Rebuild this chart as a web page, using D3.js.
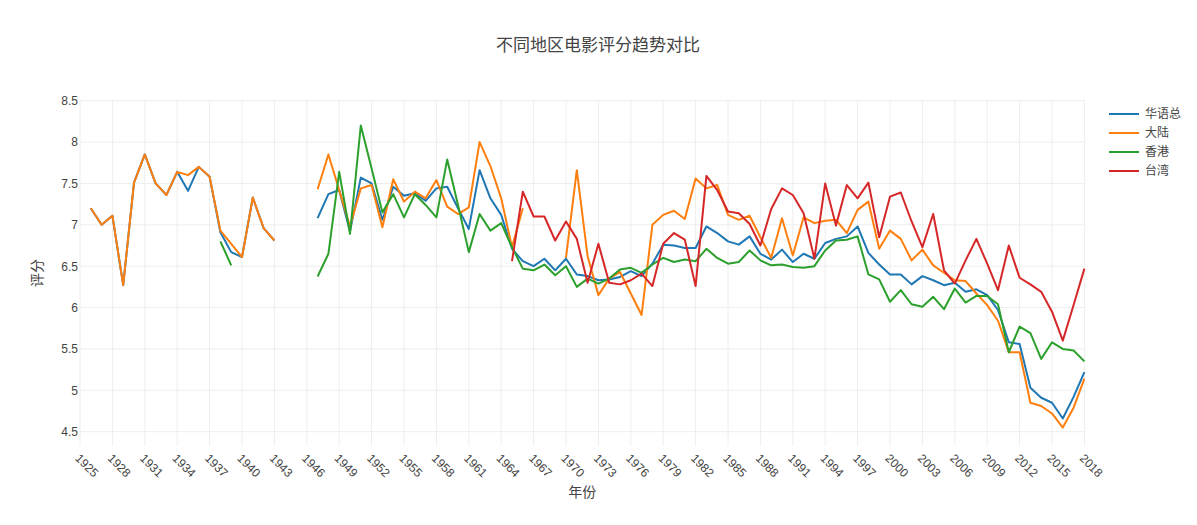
<!DOCTYPE html>
<html>
<head>
<meta charset="utf-8">
<script src="https://cdn.jsdelivr.net/npm/d3@7"></script>
<style>
  html, body { margin: 0; padding: 0; background: #fff; }
  svg { display: block; font-family: "Open Sans", "Noto Sans CJK SC", sans-serif; }
</style>
</head>
<body>
<svg id="chart" width="1197" height="525"></svg>
<script>
const years = [1925,1926,1927,1928,1929,1930,1931,1932,1933,1934,1935,1936,1937,1938,1939,1940,1941,1942,1943,1944,1945,1946,1947,1948,1949,1950,1951,1952,1953,1954,1955,1956,1957,1958,1959,1960,1961,1962,1963,1964,1965,1966,1967,1968,1969,1970,1971,1972,1973,1974,1975,1976,1977,1978,1979,1980,1981,1982,1983,1984,1985,1986,1987,1988,1989,1990,1991,1992,1993,1994,1995,1996,1997,1998,1999,2000,2001,2002,2003,2004,2005,2006,2007,2008,2009,2010,2011,2012,2013,2014,2015,2016,2017,2018];

const seriesNames = ["华语总", "大陆", "香港", "台湾"];

const totalScores = [null,7.20,7.00,7.11,6.27,7.51,7.85,7.50,7.36,7.64,7.41,7.70,7.58,6.91,6.67,6.61,7.33,6.96,6.81,null,null,null,
  7.08,7.37,7.42,6.92,7.57,7.50,7.06,7.46,7.35,7.38,7.29,7.44,7.46,7.20,6.95,7.66,7.32,7.12,6.71,6.56,6.50,6.59,6.45,6.59,
  6.40,6.38,6.33,6.34,6.37,6.44,6.38,6.53,6.76,6.75,6.72,6.72,6.98,6.90,6.80,6.76,6.86,6.65,6.58,6.70,6.55,6.65,6.59,6.78,
  6.83,6.86,6.98,6.66,6.52,6.40,6.40,6.28,6.38,6.33,6.27,6.30,6.19,6.22,6.15,5.97,5.58,5.56,5.03,4.91,4.85,4.66,4.92,5.22];

const mainlandScores = [null,7.20,7.00,7.11,6.27,7.51,7.85,7.50,7.36,7.64,7.60,7.70,7.58,6.93,6.77,6.61,7.33,6.96,6.81,null,null,null,
  7.43,7.85,7.42,6.98,7.44,7.48,6.97,7.55,7.28,7.40,7.32,7.54,7.22,7.13,7.21,8.00,7.71,7.32,6.73,7.20,null,null,null,6.60,
  7.66,6.62,6.15,6.35,6.43,6.17,5.91,7.00,7.12,7.17,7.07,7.56,7.44,7.48,7.12,7.06,7.11,6.85,6.60,7.08,6.63,7.09,7.02,7.05,
  7.06,6.90,7.18,7.28,6.71,6.93,6.83,6.57,6.70,6.51,6.42,6.33,6.32,6.17,6.03,5.84,5.46,5.46,4.85,4.81,4.72,4.55,4.79,5.14];

const hongkongScores = [null,null,null,null,null,null,null,null,null,null,null,null,null,6.80,6.51,null,null,null,null,null,null,null,
  6.375,6.65,7.64,6.89,8.20,7.68,7.15,7.37,7.09,7.37,7.24,7.09,7.79,7.24,6.67,7.13,6.93,7.02,6.73,6.47,6.45,6.52,6.39,6.50,
  6.25,6.35,6.29,6.35,6.46,6.48,6.42,6.52,6.60,6.55,6.58,6.56,6.71,6.60,6.53,6.55,6.69,6.57,6.51,6.52,6.49,6.48,6.50,6.69,
  6.81,6.82,6.86,6.40,6.34,6.07,6.21,6.04,6.01,6.13,5.98,6.23,6.06,6.14,6.14,6.04,5.46,5.77,5.69,5.38,5.58,5.50,5.48,5.35];

const taiwanScores = [null,null,null,null,null,null,null,null,null,null,null,null,null,null,null,null,null,null,null,null,null,null,
  null,null,null,null,null,null,null,null,null,null,null,null,null,null,null,null,null,null,6.56,7.40,7.10,7.10,6.81,7.04,
  6.83,6.30,6.77,6.30,6.28,6.33,6.41,6.26,6.77,6.90,6.82,6.26,7.59,7.42,7.16,7.14,7.01,6.75,7.19,7.44,7.36,7.14,6.59,7.50,
  6.99,7.48,7.32,7.51,6.85,7.34,7.39,7.04,6.73,7.13,6.45,6.29,6.57,6.83,6.53,6.21,6.75,6.36,6.28,6.19,5.95,5.60,6.03,6.47];

const xTickValues = [1925,1928,1931,1934,1937,1940,1943,1946,1949,1952,1955,1958,1961,1964,1967,1970,1973,1976,1979,1982,1985,1988,1991,1994,1997,2000,2003,2006,2009,2012,2015,2018];
const yTickValues = [4.5,5,5.5,6,6.5,7,7.5,8,8.5];
const colors = ["#1f77b4", "#ff7f0e", "#2ca02c", "#d62728"];

const allSeries = [totalScores, mainlandScores, hongkongScores, taiwanScores];

const svg = d3.select("#chart");
const W = 1197, H = 525;
const plot = { left: 80, right: 1084.4, top: 100, bottom: 446 };

const x = d3.scaleLinear().domain([1925, 2018]).range([plot.left, plot.right]);
const y = d3.scaleLinear().domain([4.327, 8.508]).range([plot.bottom, plot.top]);

svg.append("rect").attr("width", W).attr("height", H).attr("fill", "#fff");

// grid
const grid = svg.append("g");
grid.selectAll("line.vx").data(xTickValues).enter().append("line")
  .attr("x1", d => x(d)).attr("x2", d => x(d))
  .attr("y1", plot.top).attr("y2", plot.bottom)
  .attr("stroke", "#eee").attr("stroke-width", 1);
grid.selectAll("line.hy").data(yTickValues).enter().append("line")
  .attr("x1", plot.left).attr("x2", plot.right)
  .attr("y1", d => y(d)).attr("y2", d => y(d))
  .attr("stroke", "#eee").attr("stroke-width", 1);

// axes via d3 axis generators, styled like plotly
const xAxis = d3.axisBottom(x).tickValues(xTickValues).tickFormat(d3.format("d")).tickSize(0).tickPadding(0);
const gx = svg.append("g").attr("transform", `translate(0,${plot.bottom})`).call(xAxis);
gx.select(".domain").remove();
gx.selectAll(".tick text")
  .attr("fill", "#444").attr("font-size", 12)
  .attr("text-anchor", "start")
  .attr("y", 0).attr("dy", "0.35em")
  .attr("transform", "translate(-3,10) rotate(45)");

const yAxis = d3.axisLeft(y).tickValues(yTickValues).tickFormat(d => d3.format("")(d)).tickSize(0).tickPadding(2);
const gy = svg.append("g").attr("transform", `translate(${plot.left},0)`).call(yAxis);
gy.select(".domain").remove();
gy.selectAll(".tick text").attr("fill", "#444").attr("font-size", 12);

// lines
const line = d3.line()
  .defined(d => d.v !== null)
  .x(d => x(d.year))
  .y(d => y(d.v));

allSeries.forEach((vals, i) => {
  const pts = years.map((yr, k) => ({ year: yr, v: vals[k] }));
  svg.append("path")
    .datum(pts)
    .attr("fill", "none")
    .attr("stroke", colors[i])
    .attr("stroke-width", 2)
    .attr("stroke-linejoin", "round")
    .attr("d", line);
});

// title
svg.append("text").attr("x", 598).attr("y", 51).attr("text-anchor", "middle")
  .attr("font-size", 17).attr("fill", "#444").text("不同地区电影评分趋势对比");

// axis titles
svg.append("text").attr("x", (plot.left + plot.right) / 2).attr("y", 497).attr("text-anchor", "middle")
  .attr("font-size", 14).attr("fill", "#444").text("年份");
svg.append("text").attr("transform", `translate(42,${(plot.top + plot.bottom) / 2}) rotate(-90)`)
  .attr("text-anchor", "middle").attr("font-size", 14).attr("fill", "#444").text("评分");

// legend
const legend = svg.append("g").attr("transform", "translate(1109,114)");
seriesNames.forEach((name, i) => {
  const g = legend.append("g").attr("transform", `translate(0,${i * 19})`);
  g.append("line").attr("x1", 0).attr("x2", 30).attr("y1", 0).attr("y2", 0)
    .attr("stroke", colors[i]).attr("stroke-width", 2);
  g.append("text").attr("x", 36).attr("y", 0).attr("dy", "0.35em")
    .attr("font-size", 12).attr("fill", "#444").text(name);
});
</script>
</body>
</html>
